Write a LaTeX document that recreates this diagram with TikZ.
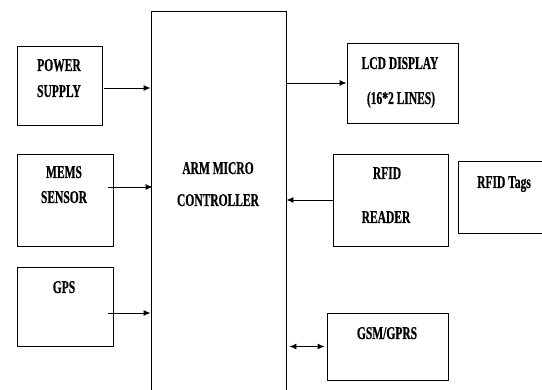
\documentclass[tikz,border=0pt]{standalone}
\usepackage{fontspec}
\usepackage{tikz}
\usetikzlibrary{arrows.meta}
\newfontfamily\labfont[FakeStretch=0.64,FakeBold=0.6]{Liberation Serif}

\begin{document}
\begin{tikzpicture}[
  x=1pt, y=-1pt,
  box/.style={draw,line width=0.9pt,inner sep=0pt},
  txt/.style={font=\labfont\bfseries\fontsize{18}{21}\selectfont,anchor=base,inner sep=0pt},
  arr/.style={-{Latex[length=7pt,width=6pt]},line width=0.9pt},
  dbl/.style={{Latex[length=7pt,width=6pt]}-{Latex[length=7pt,width=6pt]},line width=0.9pt}
]
  \useasboundingbox (0,0) rectangle (542,390);
  \clip (0,0) rectangle (542,390);
  \node[box,minimum width=135pt,minimum height=389pt] (arm) at (218.5,205.5) {};
  \node[box,minimum width=85pt,minimum height=79pt] (pwr) at (59.5,85.5) {};
  \node[box,minimum width=96pt,minimum height=92pt] (mems) at (65,200) {};
  \node[box,minimum width=96pt,minimum height=79pt] (gps) at (65,306.5) {};
  \node[box,minimum width=111pt,minimum height=80pt] (lcd) at (402.5,83) {};
  \node[box,minimum width=115pt,minimum height=92pt] (rdr) at (390.5,200) {};
  \node[box,minimum width=112pt,minimum height=72pt] (tags) at (514,197) {};
  \node[box,minimum width=121pt,minimum height=67pt] (gsm) at (387.5,346.5) {};
  \node[txt] (armA) at (218,174) {ARM MICRO};
  \node[txt] (armB) at (218,206) {CONTROLLER};
  \node[txt] (pwrA) at (59,71) {POWER};
  \node[txt] (pwrB) at (59,97) {SUPPLY};
  \node[txt] (memsA) at (64,178) {MEMS};
  \node[txt] (memsB) at (64,203) {SENSOR};
  \node[txt] (gpsA) at (64,293) {GPS};
  \node[txt] (lcdA) at (400,69) {LCD DISPLAY};
  \node[txt] (lcdB) at (401,104) {(16*2 LINES)};
  \node[txt] (rdrA) at (387,179) {RFID};
  \node[txt] (rdrB) at (386,223) {READER};
  \node[txt] (tagsA) at (504,188) {RFID Tags};
  \node[txt] (gsmA) at (387,339) {GSM/GPRS};
  \draw[arr] ([shift={(2,2.5)}]pwr.east) coordinate (p1) -- (arm.west |- p1);
  \draw[arr] ([shift={(-5,-13)}]mems.east) coordinate (p2) -- ([xshift=2pt]arm.west |- p2);
  \draw[arr] ([shift={(-5,6.5)}]gps.east) coordinate (p3) -- (arm.west |- p3);
  \draw[arr] (arm.east |- lcd.west) -- (lcd.west);
  \draw[arr] (rdr.west) -- (arm.east |- rdr.west);
  \draw[dbl] ([xshift=3pt]arm.east |- gsm.west) -- ([xshift=-2pt]gsm.west);
\end{tikzpicture}
\end{document}
